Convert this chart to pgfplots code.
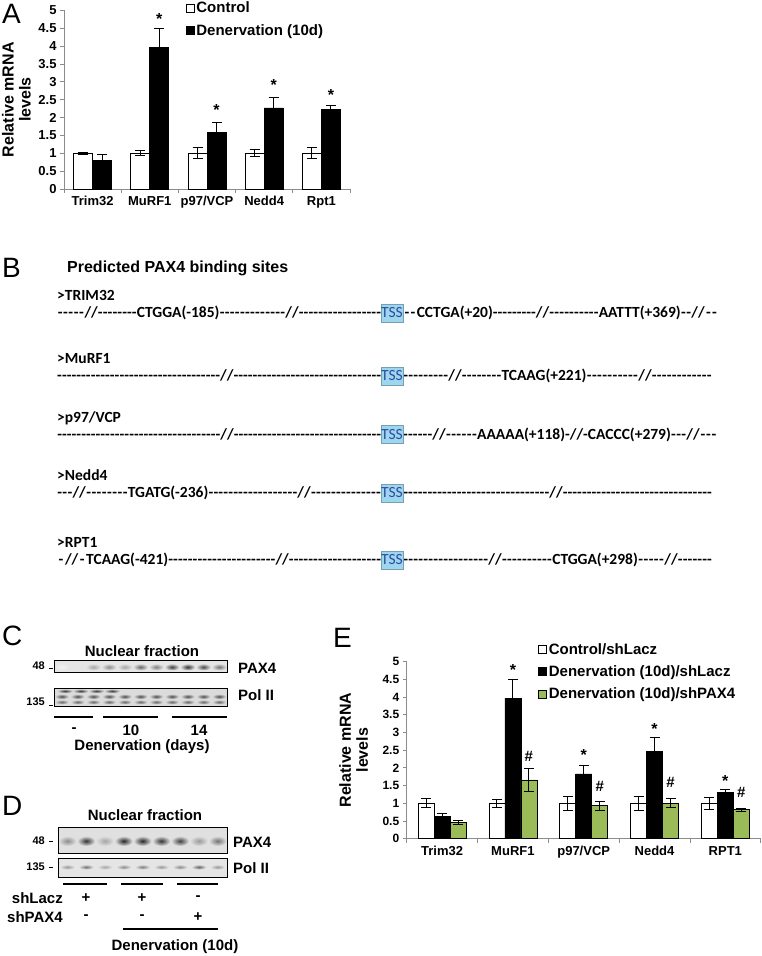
\documentclass[border=0pt]{standalone}
\usepackage{fontspec}
\setmainfont{Liberation Sans}
\newfontfamily\calib{Carlito}
\usepackage{pgfplots}
\pgfplotsset{compat=1.18}

\definecolor{shgreen}{RGB}{155,187,89}
\definecolor{axgray}{RGB}{140,140,140}
\definecolor{tssfill}{RGB}{158,214,238}
\definecolor{tsstext}{RGB}{45,75,160}

\newcommand\fs[2]{\fontsize{#1}{#2}\selectfont}

% sequence lines (panel B): each element is centred at a given offset
% from the line start, the gaps are filled with hyphens
\newcommand\seqfont{\calib\bfseries\fs{15.5bp}{16bp}}
\newdimen\segpos \newdimen\segw \newdimen\segg
\newcommand\sdash[1]{\makebox[#1]{\xleaders\hbox{-}\hfill}}
\newcommand\seg[2]{\settowidth\segw{#2}%
  \segg=\dimexpr#1bp-0.5\segw-\segpos\relax\sdash{\segg}#2%
  \global\segpos=\dimexpr#1bp+0.5\segw\relax}
\newcommand\segend[1]{\segg=\dimexpr#1bp-\segpos\relax\sdash{\segg}}
\newcommand\seqline[3]{\node[anchor=base west, inner sep=0, font=\seqfont] at (57,#1)
  {\global\segpos=0pt #2\segend{#3}};}
\newcommand\tssgap{\seg{335}{\hbox to 22bp{}}}
\newcommand\tss[1]{\node[fill=tssfill, draw=tssfill!75!black, line width=0.4bp, minimum width=22bp, minimum height=18bp, inner sep=0, font=\calib\fs{15.5bp}{16bp}, text=tsstext] at (392,#1) {TSS};}

\tikzset{
  ast/.style={font=\bfseries\fs{16bp}{16bp}, inner sep=0, yshift=-3.5bp},
  hsh/.style={font=\bfseries\fs{15bp}{16bp}, inner sep=0},
}

\pgfplotsset{
  mrna/.style={
    scale only axis, anchor=south west,
    axis x line=bottom, axis y line=left,
    axis line style={-, axgray, line width=0.8bp},
    tick style={axgray, line width=0.8bp},
    tick align=outside, major tick length=4bp,
    ymin=0, ymax=5, ytick={0,0.5,...,5},
    yticklabels={0,0.5,1,1.5,2,2.5,3,3.5,4,4.5,5},
    xmin=0.5, xmax=5.5, xtick={0.5,1.5,...,5.5},
    x tick label as interval,
    xticklabel style={font=\bfseries\fs{13bp}{15bp}},
    ylabel style={align=center, font=\bfseries\fs{16bp}{17bp}, anchor=center},
    ybar=0pt, clip=false,
    every axis plot/.append style={draw=black, line width=0.8bp,
      error bars/y dir=both, error bars/y explicit,
      error bars/error bar style={black, line width=1bp},
      error bars/error mark options={rotate=90, black, mark size=5bp, line width=1bp}},
    legend cell align=left,
    legend style={draw=none, fill=none, font=\bfseries\fs{15bp}{17bp},
      inner sep=0pt, row sep=6bp, anchor=north west},
  },
  sq/.style={legend image code/.code={\draw[##1, draw=black, line width=0.6bp] (0bp,-4bp) rectangle (8bp,4bp);}},
}

\begin{document}
\begin{tikzpicture}[x=1bp,y=1bp]
\useasboundingbox (0,0) rectangle (762,956);

% ---------------- panel A ----------------
\node[anchor=west, inner sep=0, font=\fs{28bp}{30bp}] at (2,942) {A};
\begin{axis}[mrna, at={(64bp,767bp)}, width=286bp, height=178.5bp, bar width=19bp,
  yticklabel style={font=\bfseries\fs{13bp}{14bp}},
  xticklabels={Trim32,MuRF1,p97/VCP,Nedd4,Rpt1},
  ylabel={Relative mRNA\\levels},
  ylabel style={at={(axis description cs:-0.166,0.5)}},
  legend style={at={(axis description cs:0.425,1.06)}}]
\addplot[fill=white, sq] coordinates {
  (1,1.00) +- (0,0.03) (2,1.00) +- (0,0.07) (3,1.00) +- (0,0.15)
  (4,1.00) +- (0,0.10) (5,1.00) +- (0,0.15)};
\addplot[fill=black, sq] coordinates {
  (1,0.80) +- (0,0.16) (2,3.97) +- (0,0.53) (3,1.58) +- (0,0.29)
  (4,2.27) +- (0,0.29) (5,2.22) +- (0,0.11)};
\addlegendentry{Control}
\addlegendentry{Denervation (10d)}
\node[ast] at (axis cs:2.166,4.85) {*};
\node[ast] at (axis cs:3.166,2.31) {*};
\node[ast] at (axis cs:4.166,3.00) {*};
\node[ast] at (axis cs:5.166,2.73) {*};
\end{axis}

% ---------------- panel B ----------------
\node[anchor=west, inner sep=0, font=\fs{28bp}{30bp}] at (2,688) {B};
\node[anchor=west, inner sep=0, font=\bfseries\fs{16bp}{18bp}] at (67,688) {Predicted PAX4 binding sites};

\node[anchor=base west, inner sep=0, font=\seqfont] at (57,655) {>TRIM32};
\seqline{638}{\seg{34}{//}\seg{121}{CTGGA(-185)}\seg{235}{//}\tssgap
  \seg{397.7}{CCTGA(+20)}\seg{485.5}{//}\seg{582.7}{AATTT(+369)}\seg{641}{//}}{661}
\tss{643}

\node[anchor=base west, inner sep=0, font=\seqfont] at (57,592) {>MuRF1};
\seqline{575}{\seg{169.7}{//}\tssgap\seg{398}{//}\seg{487}{TCAAG(+221)}\seg{588}{//}}{655}
\tss{580}

\node[anchor=base west, inner sep=0, font=\seqfont] at (57,533.5) {>p97/VCP};
\seqline{516.5}{\seg{170}{//}\tssgap\seg{382}{//}\seg{517}{AAAAA(+118)-//-CACCC(+279)}\seg{636}{//}}{660}
\tss{521.5}

\node[anchor=base west, inner sep=0, font=\seqfont] at (57,475) {>Nedd4};
\seqline{458}{\seg{22}{//}\seg{111}{TGATG(-236)}\seg{247}{//}\tssgap\seg{499}{//}}{655}
\tss{463}

\node[anchor=base west, inner sep=0, font=\seqfont] at (57,408) {>RPT1};
\seqline{391}{\seg{14.5}{//}\seg{70}{TCAAG(-421)}\seg{225}{//}\tssgap
  \seg{438}{//}\seg{538}{CTGGA(+298)}\seg{614}{//}}{655}
\tss{396}

% ---------------- panel C ----------------
\node[anchor=west, inner sep=0, font=\fs{28bp}{30bp}] at (2,320) {C};
\node[font=\bfseries\fs{15bp}{16bp}] at (142,305) {Nuclear fraction};
\fill[black!10] (54,284) rectangle (227,296);
\foreach \i/\v in {0/5,1/10,2/35,3/45,4/35,5/60,6/50,7/75,8/80,9/72,10/55}
  \shade[inner color=black!\v, outer color=black!10] (61.9+15.73*\i,289) ellipse (7.5 and 3.5);
\draw[line width=0.9bp] (54,284) rectangle (227,296);
\fill[black!14] (54,250) rectangle (227,268);
\foreach \i in {0,...,10} {
  \shade[inner color=black!70, outer color=black!14] (61.9+15.73*\i,259.5) ellipse (7 and 2.6);
  \shade[inner color=black!60, outer color=black!14] (61.9+15.73*\i,254) ellipse (7 and 2.4);}
\foreach \i in {0,...,3}
  \shade[inner color=black!75, outer color=black!14] (65+15.73*\i,265) ellipse (8 and 2.2);
\draw[line width=0.9bp] (54,250) rectangle (227,268);
\node[anchor=east, inner sep=0, font=\bfseries\fs{11bp}{12bp}] at (45,290) {48};
\draw[line width=0.8bp] (49,288) -- (53,288);
\node[anchor=east, inner sep=0, font=\bfseries\fs{11bp}{12bp}] at (45,254) {135};
\draw[line width=0.8bp] (49,251) -- (53,251);
\node[anchor=west, inner sep=0, font=\bfseries\fs{15bp}{16bp}] at (238,288) {PAX4};
\node[anchor=west, inner sep=0, font=\bfseries\fs{15bp}{16bp}] at (238,261) {Pol II};
\draw[line width=2bp] (54,239) -- (93,239) (103,239) -- (158,239) (172,239) -- (227,239);
\node[font=\bfseries\fs{15bp}{16bp}] at (74,226) {-};
\node[font=\bfseries\fs{15bp}{16bp}] at (131,226) {10};
\node[font=\bfseries\fs{15bp}{16bp}] at (199,226) {14};
\node[font=\bfseries\fs{15bp}{16bp}] at (142,209) {Denervation (days)};

% ---------------- panel D ----------------
\node[anchor=west, inner sep=0, font=\fs{28bp}{30bp}] at (2,150) {D};
\node[font=\bfseries\fs{15bp}{16bp}] at (145,141) {Nuclear fraction};
\fill[black!12] (58,103) rectangle (227,129);
\foreach \i/\v in {0/45,1/80,2/35,3/85,4/85,5/80,6/75,7/40,8/55}
  \shade[inner color=black!\v, outer color=black!12] (67.4+18.78*\i,115) ellipse (9 and 5);
\draw[line width=0.9bp] (58,103) rectangle (227,129);
\fill[black!10] (58,79) rectangle (227,98);
\foreach \i/\v in {0/40,1/55,2/35,3/45,4/50,5/40,6/45,7/60,8/40}
  \shade[inner color=black!\v, outer color=black!10] (67.4+18.78*\i,89) ellipse (7.5 and 2.6);
\draw[line width=0.9bp] (58,79) rectangle (227,98);
\node[anchor=east, inner sep=0, font=\bfseries\fs{11bp}{12bp}] at (45,115) {48};
\draw[line width=0.8bp] (49,115) -- (53,115);
\node[anchor=east, inner sep=0, font=\bfseries\fs{11bp}{12bp}] at (45,89) {135};
\draw[line width=0.8bp] (49,89) -- (53,89);
\node[anchor=west, inner sep=0, font=\bfseries\fs{15bp}{16bp}] at (233,114) {PAX4};
\node[anchor=west, inner sep=0, font=\bfseries\fs{15bp}{16bp}] at (233,88) {Pol II};
\draw[line width=2bp] (63,72) -- (107,72) (121,72) -- (163,72) (177,72) -- (218,72);
\node[anchor=east, inner sep=0, font=\bfseries\fs{15bp}{16bp}] at (63,58) {shLacz};
\node[anchor=east, inner sep=0, font=\bfseries\fs{15bp}{16bp}] at (63,39) {shPAX4};
\node[font=\bfseries\fs{15bp}{16bp}] at (86,58) {+};
\node[font=\bfseries\fs{15bp}{16bp}] at (142,58) {+};
\node[font=\bfseries\fs{15bp}{16bp}] at (198,58) {-};
\node[font=\bfseries\fs{15bp}{16bp}] at (86,39) {-};
\node[font=\bfseries\fs{15bp}{16bp}] at (142,39) {-};
\node[font=\bfseries\fs{15bp}{16bp}] at (198,39) {+};
\draw[line width=1.5bp] (123,27) -- (218,27);
\node[font=\bfseries\fs{15bp}{16bp}] at (175,9) {Denervation (10d)};

% ---------------- panel E ----------------
\node[anchor=west, inner sep=0, font=\fs{28bp}{30bp}] at (333,318) {E};
\begin{axis}[mrna, at={(406.7bp,117.3bp)}, width=354bp, height=177bp, bar width=16bp,
  yticklabel style={font=\bfseries\fs{12bp}{14bp}},
  xticklabels={Trim32,MuRF1,p97/VCP,Nedd4,RPT1},
  ylabel={Relative mRNA\\levels},
  ylabel style={at={(axis description cs:-0.150,0.5)}},
  legend style={at={(axis description cs:0.371,1.117)}}]
\addplot[fill=white, sq] coordinates {
  (1,1.00) +- (0,0.13) (2,1.00) +- (0,0.11) (3,1.00) +- (0,0.19)
  (4,1.00) +- (0,0.19) (5,1.00) +- (0,0.17)};
\addplot[fill=black, sq] coordinates {
  (1,0.63) +- (0,0.08) (2,3.97) +- (0,0.53) (3,1.83) +- (0,0.23)
  (4,2.46) +- (0,0.41) (5,1.31) +- (0,0.07)};
\addplot[fill=shgreen, sq] coordinates {
  (1,0.45) +- (0,0.06) (2,1.66) +- (0,0.32) (3,0.93) +- (0,0.12)
  (4,1.00) +- (0,0.13) (5,0.82) +- (0,0.04)};
\addlegendentry{Control/shLacz}
\addlegendentry{Denervation (10d)/shLacz}
\addlegendentry{Denervation (10d)/shPAX4}
\node[ast] at (axis cs:2,4.86) {*};
\node[ast] at (axis cs:3,2.46) {*};
\node[ast] at (axis cs:4,3.21) {*};
\node[ast] at (axis cs:5,1.72) {*};
\node[hsh] at (axis cs:2.226,2.32) {\#};
\node[hsh] at (axis cs:3.226,1.49) {\#};
\node[hsh] at (axis cs:4.226,1.58) {\#};
\node[hsh] at (axis cs:5.226,1.32) {\#};
\end{axis}
\end{tikzpicture}
\end{document}
